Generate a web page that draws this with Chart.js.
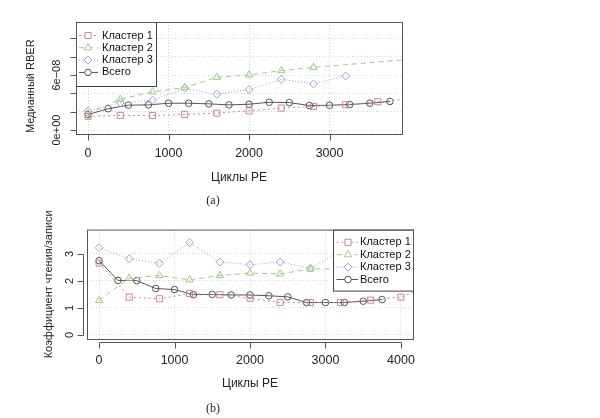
<!DOCTYPE html>
<html>
<head>
<meta charset="utf-8">
<script src="https://cdn.jsdelivr.net/npm/chart.js@4.4.1/dist/chart.umd.min.js"></script>
<style>
  body { margin: 0; background: #fff; }
  #wrap { position: relative; width: 600px; height: 418px; overflow: hidden; }
  canvas { position: absolute; left: 0; }
  #cA { top: 0; }
  #cB { top: 209px; }
  .cap {
    position: absolute;
    font-family: "Liberation Serif", "DejaVu Serif", serif;
    font-size: 12px;
    color: #222;
    transform: translate(-50%, -50%);
  }
</style>
</head>
<body>
<div id="wrap">
  <canvas id="cA" width="600" height="209" style="width:600px;height:209px"></canvas>
  <canvas id="cB" width="600" height="209" style="width:600px;height:209px"></canvas>
  <div class="cap" style="left:213px;top:200px">(a)</div>
  <div class="cap" style="left:213px;top:408px">(b)</div>
</div>
<script>
// --- Data (a): median RBER, values in units of 1e-8 ---
const RBER_UNIT = 1e-8;
const peClusterA = [0, 400, 800, 1200, 1600, 2000, 2400, 2800, 3200, 3600, 4000];
const cluster1A = [1.5, 1.6, 1.58, 1.71, 1.85, 2.1, 2.4, 2.58, 2.76, 3.09, 3.41];
const cluster2A = [1.8, 3.37, 4.17, 4.64, 5.76, 6.02, 6.49, 6.85, 7.14, 7.43, 7.72];
const cluster3A = [2.1, 2.98, 3.26, 4.57, 3.91, 4.42, 5.54, 5.04, 5.91];
const peTotalA = [0, 250, 500, 750, 1000, 1250, 1500, 1750, 2000, 2250, 2500, 2750, 3000, 3250, 3500, 3750];
const totalA = [1.7, 2.33, 2.72, 2.75, 2.93, 2.93, 2.86, 2.75, 2.82, 3.04, 3.0, 2.68, 2.71, 2.79, 2.93, 3.12];
const xTicksA = [0, 1000, 2000, 3000];
const yTicksA = [0, 2e-8, 4e-8, 6e-8, 8e-8, 1e-7];
const yLabelsA = ["0e+00", "", "", "6e\u221208", "", ""];

// --- Data (b): read/write ratio ---
const peClusterB = [0, 400, 800, 1200, 1600, 2000, 2400, 2800, 3200, 3600, 4000, 4400];
const cluster1B = [2.66, 1.40, 1.34, 1.53, 1.49, 1.36, 1.20, 1.20, 1.20, 1.29, 1.40, 1.86];
const cluster2B = [1.28, 2.10, 2.20, 2.04, 2.20, 2.29, 2.26, 2.44, 2.45];
const cluster3B = [3.23, 2.82, 2.65, 3.42, 2.70, 2.60, 2.70, 2.47, 3.10];
const peTotalB = [0, 250, 500, 750, 1000, 1250, 1500, 1750, 2000, 2250, 2500, 2750, 3000, 3250, 3500, 3750];
const totalB = [2.75, 2.02, 2.01, 1.72, 1.68, 1.49, 1.50, 1.48, 1.48, 1.45, 1.41, 1.20, 1.20, 1.20, 1.25, 1.31];
const xTicksB = [0, 1000, 2000, 3000, 4000];
const yTicksB = [0, 1, 2, 3];
const yLabelsB = ["0", "1", "2", "3"];

const labels = ["Кластер 1", "Кластер 2", "Кластер 3", "Всего"];

// --- Styles ---
const FONT = '"Liberation Sans", Arial, sans-serif';
Chart.defaults.font.family = FONT;
Chart.defaults.color = "#222";

const styles = [
  { color: "rgb(200,135,148)", dash: [2, 3], point: "rect", radius: 4.3 },
  { color: "rgb(160,200,130)", dash: [5, 4], point: "triangle", radius: 4.2 },
  { color: "rgb(160,160,210)", dash: [1, 2], point: "rectRot", radius: 4 },
  { color: "rgb(85,85,85)", dash: [], point: "circle", radius: 3.3 },
];

function series(i, xs, ys, k, radii) {
  const st = styles[i];
  return {
    label: labels[i],
    data: ys.map((y, j) => ({ x: xs[j], y: y * k })),
    borderColor: st.color,
    backgroundColor: "rgba(0,0,0,0)",
    borderWidth: 1,
    borderDash: st.dash,
    pointStyle: st.point,
    pointRadius: radii || st.radius,
    pointHoverRadius: st.radius,
    pointBorderWidth: 1,
    pointBorderColor: st.color,
    pointBackgroundColor: "rgba(0,0,0,0)",
    legendRadius: st.radius,
    tension: 0,
    fill: false,
  };
}

// box, R-style axes (tick marks) and the legend
const frame = {
  id: "frame",
  afterDatasetsDraw(chart, args, o) {
    const { ctx, chartArea: a } = chart;
    const xs = chart.scales.x, ys = chart.scales.y;
    ctx.save();
    ctx.lineWidth = 1;
    ctx.setLineDash([]);

    // legend
    const lg = o.legend;
    const lx = lg.side === "right" ? a.right - lg.width : a.left;
    const ly = a.top;
    ctx.fillStyle = "#fff";
    ctx.fillRect(lx, ly, lg.width, lg.height);
    ctx.strokeStyle = "#444";
    ctx.strokeRect(lx + 0.5, ly + 0.5, lg.width, lg.height);
    ctx.font = lg.fontSize + "px " + FONT;
    ctx.textBaseline = "middle";
    chart.data.datasets.forEach((ds, i) => {
      const y = ly + lg.first + i * lg.gap;
      ctx.strokeStyle = ds.borderColor;
      ctx.setLineDash(ds.borderDash);
      ctx.beginPath();
      ctx.moveTo(lx + lg.line[0], y);
      ctx.lineTo(lx + lg.line[1], y);
      ctx.stroke();
      ctx.setLineDash([]);
      ctx.fillStyle = "#fff";
      Chart.helpers.drawPoint(ctx, { pointStyle: ds.pointStyle, radius: ds.legendRadius, borderWidth: 1, rotation: 0 }, lx + lg.sym, y);
      ctx.fillStyle = "#111";
      ctx.fillText(ds.label, lx + lg.text, y);
    });

    // plot box
    ctx.strokeStyle = "#555";
    ctx.strokeRect(a.left + 0.5, a.top + 0.5, a.right - a.left, a.bottom - a.top);

    // axes with tick marks
    const off = o.offset, tl = 6;
    const yp = ys.ticks.map((t) => Math.round(ys.getPixelForValue(t.value)) + 0.5);
    const ax = a.left - off.y + 0.5;
    ctx.beginPath();
    ctx.moveTo(ax, Math.min(...yp));
    ctx.lineTo(ax, Math.max(...yp));
    yp.forEach((p) => { ctx.moveTo(ax, p); ctx.lineTo(ax - tl, p); });
    const xp = xs.ticks.map((t) => Math.round(xs.getPixelForValue(t.value)) + 0.5);
    const ay = a.bottom + off.x + 0.5;
    ctx.moveTo(Math.min(...xp), ay);
    ctx.lineTo(Math.max(...xp), ay);
    xp.forEach((p) => { ctx.moveTo(p, ay); ctx.lineTo(p, ay + tl); });
    ctx.stroke();
    ctx.restore();
  },
};

function makeChart(id, cfg) {
  return new Chart(document.getElementById(id), {
    type: "line",
    data: { datasets: cfg.datasets },
    plugins: [frame],
    options: {
      responsive: false,
      animation: false,
      events: [],
      layout: { padding: { top: cfg.area.top, right: 600 - cfg.area.right, left: 0, bottom: 0 } },
      plugins: {
        legend: { display: false },
        tooltip: { enabled: false },
        frame: { legend: cfg.legend, offset: cfg.offset },
      },
      scales: {
        x: {
          type: "linear",
          min: cfg.xMin,
          max: cfg.xMax,
          afterBuildTicks: (s) => { s.ticks = cfg.xTicks.map((v) => ({ value: v })); },
          afterFit: (s) => { s.height = 209 - cfg.area.bottom; },
          grid: { color: "#d6d6d6", drawTicks: false },
          border: { display: false, dash: [1, 2] },
          ticks: { autoSkip: false, maxRotation: 0, padding: cfg.xTickPad, font: { size: 12.5 }, callback: (v) => String(v) },
          title: { display: true, text: "Циклы PE", font: { size: 12 }, padding: { top: 0, bottom: cfg.xTitlePad } },
        },
        y: {
          type: "linear",
          min: cfg.yMin,
          max: cfg.yMax,
          afterBuildTicks: (s) => { s.ticks = cfg.yTicks.map((v) => ({ value: v })); },
          afterFit: (s) => { s.width = cfg.area.left; },
          grid: { color: "#d6d6d6", drawTicks: false },
          border: { display: false, dash: [1, 2] },
          ticks: {
            autoSkip: false,
            minRotation: 90,
            maxRotation: 90,
            crossAlign: "center",
            padding: cfg.yTickPad,
            font: { size: 11 },
            callback: (v, i) => cfg.yLabels[i],
          },
          title: { display: true, text: cfg.yTitle, font: { size: 11 }, padding: { top: cfg.yTitlePad, bottom: 0 } },
        },
      },
    },
  });
}

// (a)
makeChart("cA", {
  area: { left: 76, right: 402, top: 22, bottom: 134 },
  offset: { x: 0, y: 0 },
  xMin: -150, xMax: 3900, xTicks: xTicksA, xTickPad: 12, xTitlePad: 24,
  yMin: -0.43e-8, yMax: 11.8e-8, yTicks: yTicksA, yLabels: yLabelsA, yTickPad: 4,
  // trailing spaces keep the rotated title sitting a little lower, as in the figure
  yTitle: "Медианный RBER\u2002\u2002\u2002", yTitlePad: 24.5,
  legend: { side: "left", width: 80, height: 64, first: 13.5, gap: 12.3, line: [3, 22], sym: 12, text: 26, fontSize: 11 },
  datasets: [
    series(0, peClusterA, cluster1A, RBER_UNIT),
    series(1, peClusterA, cluster2A, RBER_UNIT, cluster2A.map((v, j) => (j < 8 ? styles[1].radius : 0))),
    series(2, peClusterA, cluster3A, RBER_UNIT),
    series(3, peTotalA, totalA, RBER_UNIT),
  ],
});

// (b)
makeChart("cB", {
  area: { left: 87, right: 413, top: 18, bottom: 130 },
  offset: { x: 3, y: 4 },
  xMin: -160, xMax: 4160, xTicks: xTicksB, xTickPad: 14, xTitlePad: 27.5,
  yMin: -0.15, yMax: 3.9, yTicks: yTicksB, yLabels: yLabelsB, yTickPad: 14,
  yTitle: "Коэффициент чтения/записи", yTitlePad: 42.8,
  legend: { side: "right", width: 80, height: 61, first: 12.7, gap: 12.4, line: [3.5, 25], sym: 15, text: 27, fontSize: 11 },
  datasets: [
    series(0, peClusterB, cluster1B, 1),
    series(1, peClusterB, cluster2B, 1),
    series(2, peClusterB, cluster3B, 1),
    series(3, peTotalB, totalB, 1),
  ],
});
</script>
</body>
</html>
